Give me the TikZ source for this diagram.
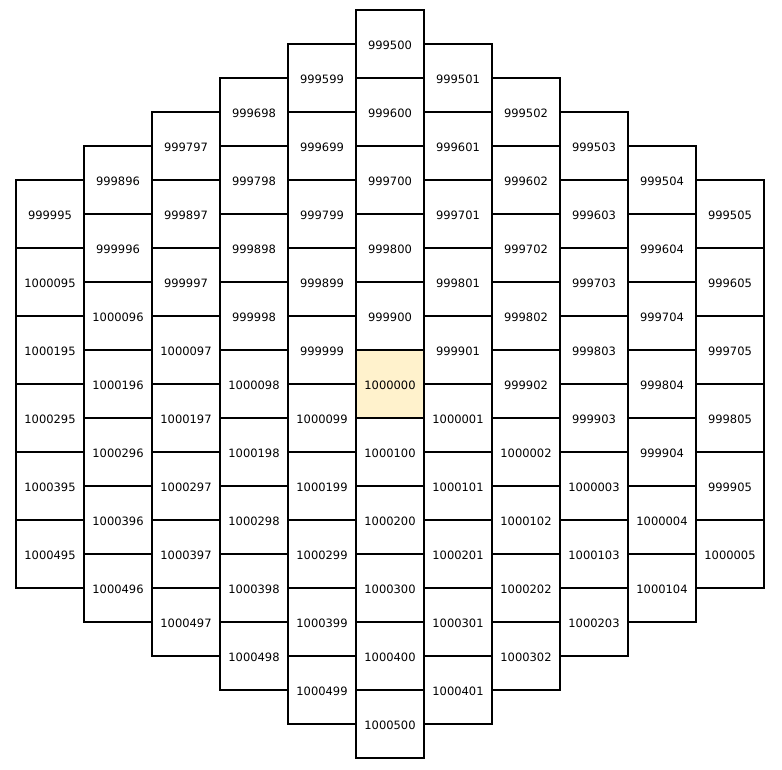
\documentclass[tikz,border=0pt]{standalone}
\usepackage{fontspec}
\setmainfont{DejaVu Sans}
\usepackage{tikz}
\usetikzlibrary{positioning, calc}
\definecolor{cellhigh}{RGB}{255,242,204}

\begin{document}
\begin{tikzpicture}[x=1pt, y=1pt, font=\fontsize{11.5}{13}\selectfont]
  \tikzset{
    cell/.style={
      rectangle, draw=black, line width=1.4pt, fill=white,
      minimum width=68pt, minimum height=68pt, inner sep=0pt,
      text height=10.5pt, text depth=0pt
    },
    cellmid/.style={cell, fill=cellhigh}
  }
  \useasboundingbox (0,0) rectangle (782,-770);
  % 11 columns, column c holds 11-|c-5| cells, shifted down half a cell per step out
  \foreach \c in {0,...,10}{
    \pgfmathtruncatemacro{\d}{abs(\c-5)}
    \pgfmathtruncatemacro{\n}{10-\d}
    \pgfmathtruncatemacro{\lft}{max(0,5-\c)}
    \foreach \k in {0,...,\n}{
      \pgfmathtruncatemacro{\off}{(\c-5)+100*(\k+\lft)}
      \ifnum\off=500
        \node[cellmid] (b-\c-\k) at ({50+68*\c}, {-(44+34*\d+68*\k)})
          {\the\numexpr 999500+\off\relax};
      \else
        \node[cell] (b-\c-\k) at ({50+68*\c}, {-(44+34*\d+68*\k)})
          {\the\numexpr 999500+\off\relax};
      \fi
    }
  }
\end{tikzpicture}
\end{document}
